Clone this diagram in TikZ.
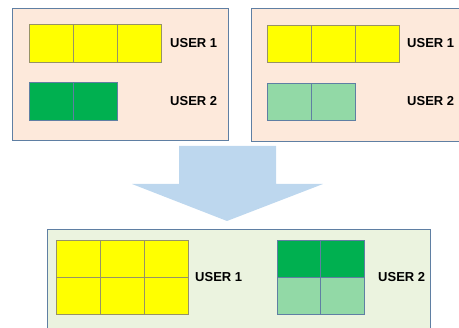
\documentclass[tikz,border=0pt]{standalone}
\usepackage{fontspec}
\setmainfont{Liberation Sans}
\definecolor{peach}{HTML}{FDE9DB}
\definecolor{mint}{HTML}{EBF3DF}
\definecolor{frame}{HTML}{5F7FA3}
\definecolor{ublue}{HTML}{BDD7EE}
\definecolor{ugreen}{HTML}{00B050}
\definecolor{lgreen}{HTML}{92D9A6}
\definecolor{uyellow}{HTML}{FFFF00}
\begin{document}
\begin{tikzpicture}[x=1pt,y=-1pt,
  panel/.style={draw=frame, line width=0.8pt},
  ycell/.style={draw=black!45!yellow!60!gray, fill=uyellow, line width=0.6pt},
  gcell/.style={draw=frame, fill=ugreen, line width=0.6pt},
  lcell/.style={draw=frame, fill=lgreen, line width=0.6pt},
  userlabel/.style={font=\fontsize{13}{15}\selectfont\bfseries, inner sep=0pt}]
\useasboundingbox (0,0) rectangle (459,328);
\clip (0,0) rectangle (459,328);
% panels
\draw[panel, fill=peach] (12,8) rectangle (228,140);
\draw[panel, fill=peach] (251,8) rectangle (462,141);
\draw[panel, fill=mint] (47,229) rectangle (430,332);
% arrow
\fill[ublue] (179,146) -- (276,146) -- (276,184) -- (323,184) -- (227,221) -- (132,184) -- (179,184) -- cycle;
% left panel
\foreach \x in {29,73,117} \draw[ycell] (\x,24) rectangle ++(44,38);
\foreach \x in {29,73} \draw[gcell] (\x,82) rectangle ++(44,38);
\node[userlabel, anchor=west] (a1) at (170,43) {USER 1};
\node[userlabel, anchor=west] (a2) at (170,101) {USER 2};
% right panel
\foreach \x in {267,311,355} \draw[ycell] (\x,25) rectangle ++(44,37);
\foreach \x in {267,311} \draw[lcell] (\x,83) rectangle ++(44,37);
\node[userlabel, anchor=west] (b1) at (407,43) {USER 1};
\node[userlabel, anchor=west] (b2) at (407,101) {USER 2};
% bottom panel
\foreach \x in {56,100,144} {
  \draw[ycell] (\x,240) rectangle ++(44,37);
  \draw[ycell] (\x,277) rectangle ++(44,37);
}
\foreach \x in {277,320.5} {
  \draw[gcell] (\x,240) rectangle ++(43.5,37);
  \draw[lcell] (\x,277) rectangle ++(43.5,37);
}
\node[userlabel, anchor=west] (c1) at (195,277) {USER 1};
\node[userlabel, anchor=west] (c2) at (378,277) {USER 2};
\end{tikzpicture}
\end{document}
